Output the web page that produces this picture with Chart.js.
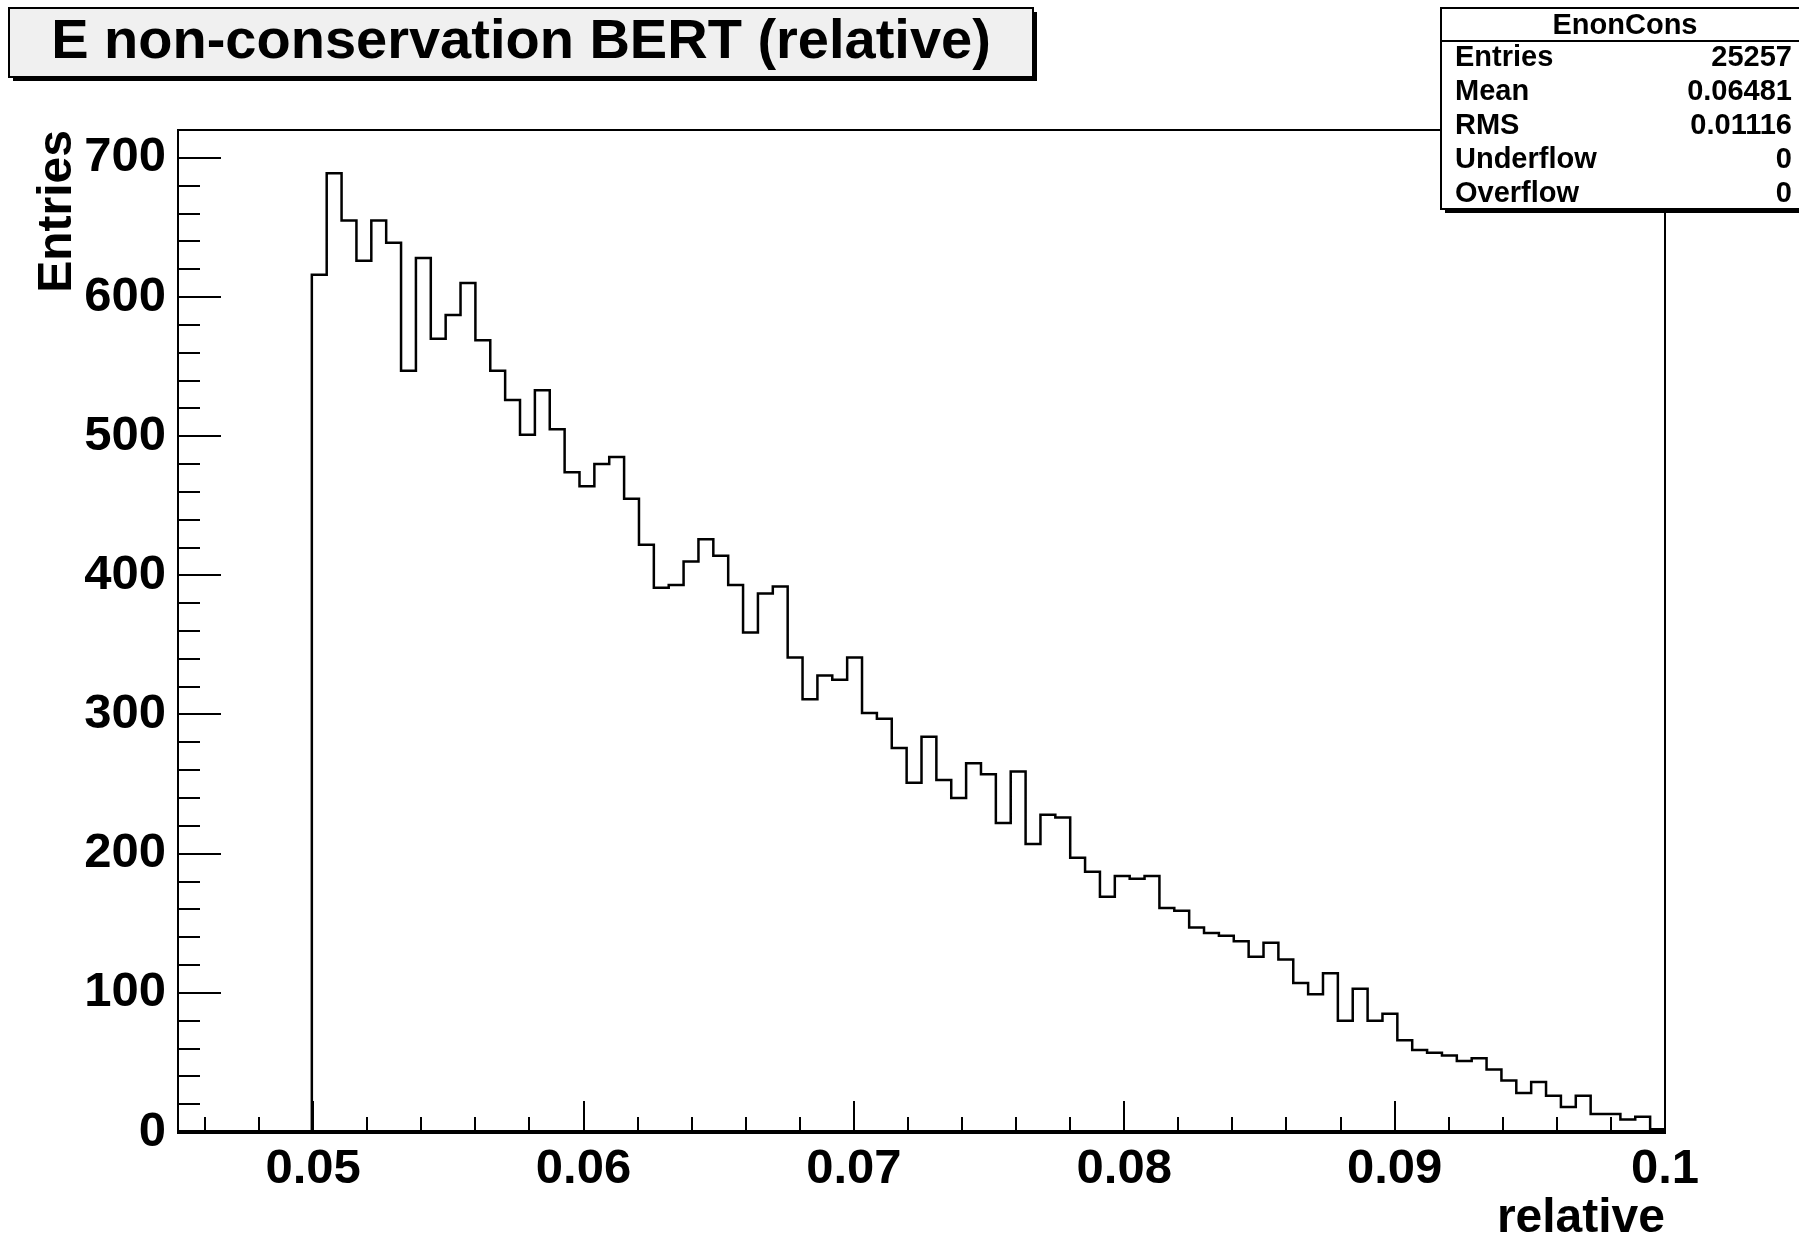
<!DOCTYPE html>
<html>
<head>
<meta charset="utf-8">
<title>E non-conservation BERT (relative)</title>
<script src="https://cdn.jsdelivr.net/npm/chart.js@4/dist/chart.umd.min.js"></script>
<style>
  html, body { margin: 0; padding: 0; background: #ffffff; }
  canvas { display: block; }
</style>
</head>
<body>
<canvas id="hist" width="1799" height="1239" style="width:1799px;height:1239px"></canvas>
<script>
// Histogram definition: 100 equal bins between X_MIN and X_MAX
const X_MIN = 0.045;
const X_MAX = 0.1;
const N_BINS = 100;

// Bin contents, bin 1 .. bin 100
const binContents = [
  0, 0, 0, 0, 0, 0, 0, 0, 0, 616,
  689, 655, 626, 655, 639, 547, 628, 570, 587, 610,
  569, 547, 526, 501, 533, 505, 474, 464, 480, 485,
  455, 422, 391, 393, 410, 426, 414, 393, 359, 387,
  392, 341, 311, 328, 325, 341, 301, 297, 276, 251,
  284, 253, 240, 265, 257, 222, 259, 207, 228, 226,
  197, 187, 169, 184, 182, 184, 161, 159, 147, 143,
  141, 137, 126, 136, 124, 107, 99, 114, 80, 103,
  80, 85, 66, 59, 57, 55, 51, 53, 45, 37,
  28, 36, 26, 18, 26, 13, 13, 9, 11, 2
];

// Axis tick values and their labels
const xTickValues = [0.05, 0.06, 0.07, 0.08, 0.09, 0.1];
const xTickLabels = ['0.05', '0.06', '0.07', '0.08', '0.09', '0.1'];
const yTickValues = [0, 100, 200, 300, 400, 500, 600, 700];
const yTickLabels = ['0', '100', '200', '300', '400', '500', '600', '700'];
const Y_MAX = 720;

// Statistics box
const statsName = 'EnonCons';
const statsLabels = ['Entries', 'Mean', 'RMS', 'Underflow', 'Overflow'];
const statsValues = ['25257', '0.06481', '0.01116', '0', '0'];

const titleText = 'E non-conservation BERT (relative)';
const xTitle = 'relative';
const yTitle = 'Entries';

const FONT = '"Liberation Sans", Arial, Helvetica, sans-serif';

// Step outline: each bin's content starts at its low edge; closing point at the upper edge
const binWidth = (X_MAX - X_MIN) / N_BINS;
const outline = binContents.map((c, i) => ({ x: X_MIN + i * binWidth, y: c }));
outline.push({ x: X_MAX, y: binContents[N_BINS - 1] });

// Frame and inward-pointing major/minor ticks, drawn with the chart's scales
const frameAndTicks = {
  id: 'frameAndTicks',
  afterDatasetsDraw(chart) {
    const { ctx, chartArea: a, scales: { x, y } } = chart;
    ctx.save();
    ctx.strokeStyle = '#000';
    ctx.lineCap = 'butt';
    ctx.lineWidth = 2;
    ctx.strokeRect(a.left, a.top, a.right - a.left, a.bottom - a.top);

    ctx.beginPath();
    // y: major every 100, minor every 20
    for (let v = 0; v <= Y_MAX; v += 20) {
      const py = Math.round(y.getPixelForValue(v));
      const len = (v % 100 === 0) ? 43 : 22;
      ctx.moveTo(a.left, py);
      ctx.lineTo(a.left + len, py);
    }
    // x: major every 0.01, minor every 0.002
    for (let m = 46; m <= 100; m += 2) {
      const px = Math.round(x.getPixelForValue(m / 1000));
      const len = (m % 10 === 0) ? 31 : 15;
      ctx.moveTo(px, a.bottom);
      ctx.lineTo(px, a.bottom - len);
    }
    ctx.stroke();

    // heavier x axis line
    ctx.lineWidth = 4;
    ctx.beginPath();
    ctx.moveTo(a.left - 1, a.bottom);
    ctx.lineTo(a.right + 1, a.bottom);
    ctx.stroke();
    ctx.restore();
  }
};

// Title box and statistics box
const boxes = {
  id: 'boxes',
  afterDraw(chart) {
    const ctx = chart.ctx;
    ctx.save();

    // title box with drop shadow
    ctx.fillStyle = '#000';
    ctx.fillRect(13, 12, 1024, 69);
    ctx.fillStyle = '#f0f0f0';
    ctx.fillRect(9, 8, 1024, 69);
    ctx.strokeStyle = '#000';
    ctx.lineWidth = 2;
    ctx.strokeRect(9, 8, 1024, 69);
    ctx.fillStyle = '#000';
    ctx.font = 'bold 56px ' + FONT;
    ctx.textAlign = 'center';
    ctx.textBaseline = 'alphabetic';
    ctx.fillText(titleText, 521, 58);

    // statistics box with drop shadow
    const bx = 1441, by = 8, bw = 368, bh = 201;
    ctx.fillStyle = '#000';
    ctx.fillRect(bx + 4, by + 4, bw, bh);
    ctx.fillStyle = '#ffffff';
    ctx.fillRect(bx, by, bw, bh);
    ctx.strokeRect(bx, by, bw, bh);
    ctx.beginPath();
    ctx.moveTo(bx, 41);
    ctx.lineTo(bx + bw, 41);
    ctx.stroke();

    ctx.fillStyle = '#000';
    ctx.font = 'bold 29px ' + FONT;
    ctx.textBaseline = 'middle';
    ctx.textAlign = 'center';
    ctx.fillText(statsName, 1625, 26);
    statsLabels.forEach((lab, i) => {
      const cy = 58 + 34 * i;
      ctx.textAlign = 'left';
      ctx.fillText(lab, 1455, cy);
      ctx.textAlign = 'right';
      ctx.fillText(statsValues[i], 1792, cy);
    });
    ctx.restore();
  }
};

const tickFont = { family: FONT, size: 49, weight: 'bold', lineHeight: 1 };
const axisTitleFont = { family: FONT, size: 48, weight: 'bold', lineHeight: 1 };

new Chart(document.getElementById('hist'), {
  type: 'line',
  data: {
    datasets: [{
      data: outline,
      stepped: 'before',
      borderColor: '#000',
      borderWidth: 2.5,
      pointRadius: 0,
      fill: false
    }]
  },
  options: {
    responsive: false,
    animation: false,
    devicePixelRatio: 1,
    layout: { padding: { top: 130, right: 134, left: 0, bottom: 0 } },
    plugins: { legend: { display: false }, tooltip: { enabled: false }, title: { display: false } },
    scales: {
      x: {
        type: 'linear',
        min: X_MIN,
        max: X_MAX,
        grid: { display: false, drawTicks: false },
        border: { display: false },
        afterBuildTicks: s => { s.ticks = xTickValues.map(v => ({ value: v })); },
        afterFit: s => { s.height = 107; },
        ticks: {
          autoSkip: false,
          maxRotation: 0,
          minRotation: 0,
          color: '#000',
          font: tickFont,
          padding: 13,
          callback: (v, i) => xTickLabels[i]
        },
        title: {
          display: true,
          text: xTitle,
          align: 'end',
          color: '#000',
          font: axisTitleFont,
          padding: { top: 0, bottom: -4 }
        }
      },
      y: {
        type: 'linear',
        min: 0,
        max: Y_MAX,
        grid: { display: false, drawTicks: false },
        border: { display: false },
        afterBuildTicks: s => { s.ticks = yTickValues.map(v => ({ value: v })); },
        afterFit: s => { s.width = 178; },
        ticks: {
          autoSkip: false,
          color: '#000',
          font: tickFont,
          padding: 12,
          callback: (v, i) => yTickLabels[i]
        },
        title: {
          display: true,
          text: yTitle,
          align: 'end',
          color: '#000',
          font: axisTitleFont,
          padding: { top: 34, bottom: 0 }
        }
      }
    }
  },
  plugins: [frameAndTicks, boxes]
});
</script>
</body>
</html>
